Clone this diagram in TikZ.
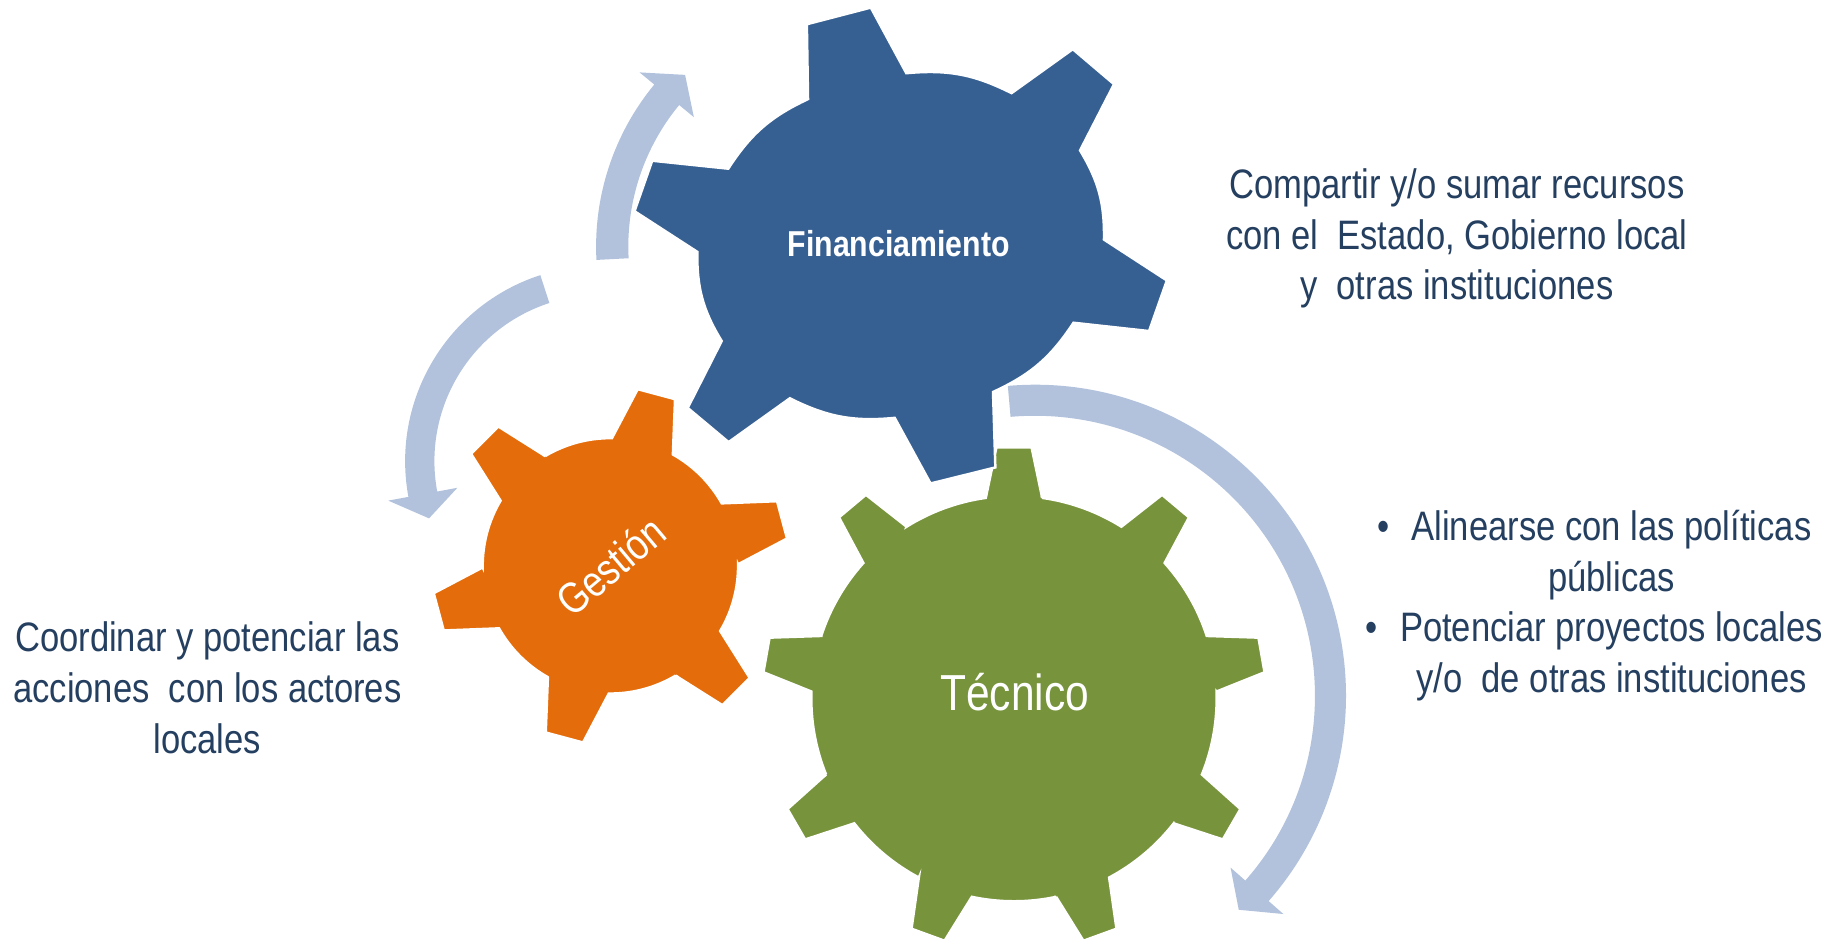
\documentclass[tikz,border=0pt]{standalone}
\usepackage{fontspec}
\setmainfont[FakeStretch=0.84]{Liberation Sans}
\definecolor{gearBlue}{HTML}{376092}
\definecolor{gearOrange}{HTML}{E46C0A}
\definecolor{gearGreen}{HTML}{77933C}
\definecolor{arrowBlue}{HTML}{B2C2DD}
\definecolor{textNavy}{HTML}{243F60}
\tikzset{
gear/.style={draw=white, line width=1.2pt}, % white rim round every wheel
rim/.style={bend left=16}, % body of the blue wheel between two teeth
turnarrow/.style={fill=arrowBlue}, % the light blue turning arrows
gearlabel/.style={text=white, inner sep=0pt}, % words written on the wheels
sidetext/.style={text=textNavy, align=center, inner sep=0pt, anchor=north, font=\fontsize{20pt}{24.6pt}\selectfont}, % text blocks beside the wheels
}

\begin{document}
\begin{tikzpicture}[x=0.02cm, y=0.02cm]

            \path[fill=white] (0,0) rectangle (1568,800);

            % turning arrows: centre x/y, inner r, outer r, tail, head base, tip
            \foreach \cx/\cy/\ri/\ro/\ta/\tb/\tc in {726.3/589.5/190/217.5/183/140.5/134, 512.8/406.3/142/167/108/190.5/198.4, 883.4/206.1/239/265.5/95/-41.3/-46.4}
                \fill[turnarrow, shift={(\cx,\cy)}] (\ta:\ro) arc[start angle=\ta, end angle=\tb, radius=\ro]
                    -- (\tb:{(\ri+\ro)/2+30}) -- (\tc:{(\ri+\ro)/2}) -- (\tb:{(\ri+\ro)/2-30})
                    -- (\tb:\ri) arc[start angle=\tb, end angle=\ta, radius=\ri] -- cycle;

            % green wheel
            \begin{scope}[shift={(865.5,203.7)}, scale=173]
                \fill[gear, fill=gearGreen] (82:1) \foreach \a in {90,130,...,410} {
                    -- ({\a-8}:1) -- ({\a-4}:1.243) -- ({\a+4}:1.243) -- ({\a+8}:1)
                    arc[start angle={\a+8}, end angle={\a+32}, radius=1] } -- cycle;
            \end{scope}

            % orange wheel
            \begin{scope}[shift={(521,317)}, scale=109]
                \fill[gear, fill=gearOrange] (60.7:1) \foreach \a in {75,135,...,375} {
                    -- ({\a-14.3}:1) -- ({\a-6.2}:1.4) -- ({\a+6.2}:1.4) -- ({\a+14.3}:1)
                    arc[start angle={\a+14.3}, end angle={\a+45.7}, radius=1] } -- cycle;
            \end{scope}

            % blue wheel
            \fill[gear, fill=gearBlue] (689.7,715.4) -- (688.7,779.3) -- (743.3,793.5) -- (773.6,737.5)
                to[rim] (863.4,720.5) -- (915.7,758) -- (950.9,728.1) -- (921.9,671.6)
                to[rim] (942.3,595.5) -- (996,560.6) -- (980.8,517.4) -- (916.3,524.5)
                to[rim] (847.6,465.4) -- (849.6,401) -- (794.3,387.3) -- (763.7,443.3)
                to[rim] (674.2,460) -- (621.9,422.6) -- (587,451.8) -- (616,508.9)
                to[rim] (595.2,585) -- (541.6,619.7) -- (556.7,662.8) -- (621.6,656)
                to[rim] (689.7,715.4) -- cycle;

            \node[gearlabel, anchor=base, font=\bfseries\fontsize{17.5pt}{21pt}\selectfont] (financiamiento) at (767,580.8) {Financiamiento};
            \node[gearlabel, anchor=base, font=\fontsize{24.6pt}{29pt}\selectfont] (tecnico) at (866,193.4) {Técnico};
            \node[gearlabel, rotate=40, font=\fontsize{21.2pt}{25pt}\selectfont] (gestion) at (521,317) {Gestión};

            \node[sidetext] (recursos) at (1243.5,656.4) {Compartir y/o sumar recursos\\con el\ \ Estado, Gobierno local\\y\ \ otras instituciones};
            \node[sidetext] (acciones) at (177,269.5) {Coordinar y potenciar las\\acciones\ \ con los actores\\locales};
            \node[sidetext] (politicas) at (1375.5,364.8) {\llap{•\hspace{10.8pt}}Alinearse con las políticas\\públicas\\\llap{•\hspace{10.8pt}}Potenciar proyectos locales\\y/o\ \ de otras instituciones};

\end{tikzpicture}
\end{document}
